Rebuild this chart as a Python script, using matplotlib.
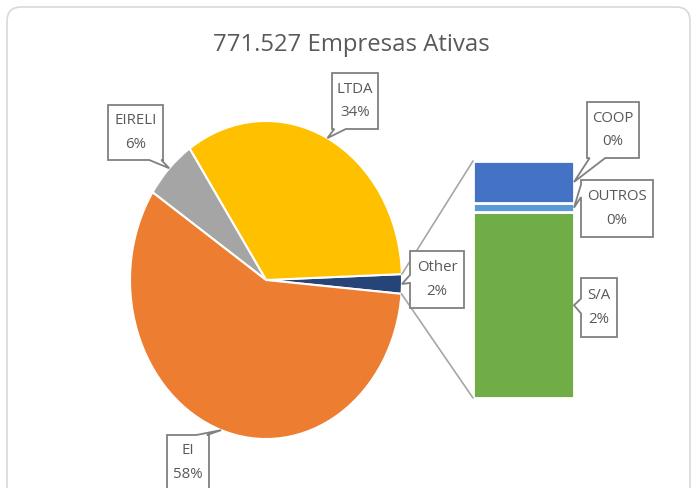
import numpy as np
import matplotlib.pyplot as plt
from matplotlib.patches import Polygon, FancyBboxPatch, ConnectionPatch

# pie slices (percent of 771.527 companies)
labels = ['Other', 'LTDA', 'EIRELI', 'EI']
values = [1.98, 33.9, 6.2, 57.9]
colors = ['#264478', '#FFC000', '#A5A5A5', '#ED7D31']

# breakdown of "Other", bottom to top
bar_labels = ['S/A', 'OUTROS', 'COOP']
bar_values = [1.55, 0.08, 0.35]
bar_colors = ['#70AD47', '#5B9BD5', '#4472C4']

title = '771.527 Empresas Ativas'

W, H = 693, 488
plt.rcParams['font.family'] = ['Open Sans', 'DejaVu Sans']
fig = plt.figure(figsize=(W / 100, H / 100), dpi=100)
GRAY = '#595959'


def inch(x, y):
    # image pixel (origin top-left) -> inches from bottom-left
    return x / 100, (H - y) / 100


# chart frame
fig.add_artist(FancyBboxPatch(inch(7, 520), 6.83, 5.13,
                              boxstyle='round,pad=0,rounding_size=0.14',
                              fc='none', ec='#D9D9D9', lw=1.2,
                              transform=fig.dpi_scale_trans))

fig.text(351 / W, 1 - 45 / H, title, ha='center', va='center',
         fontsize=17.2, color=GRAY)

# pie
ax = fig.add_axes([130 / W, (H - 439) / H, 272 / W, 318 / H])
start = -5
ax.pie(values, colors=colors, startangle=start, counterclock=True,
       wedgeprops=dict(edgecolor='white', linewidth=1.5))
ax.set_xlim(-1, 1)
ax.set_ylim(-1, 1)
ax.set_aspect('auto')
ax.axis('off')

# bar of the "Other" slice
bx = fig.add_axes([473 / W, (H - 398) / H, 101 / W, 237 / H])
bottom = 0
for v, c in zip(bar_values, bar_colors):
    bx.bar(0, v, width=1, bottom=bottom, color=c, edgecolor='white', linewidth=2)
    bottom += v
bx.set_xlim(-0.5, 0.5)
bx.set_ylim(0, sum(bar_values))
bx.axis('off')

# connector lines
total = sum(values)
t1 = np.radians(start)
t2 = np.radians(start + 360 * values[0] / total)
for t, yb in [(t2, sum(bar_values)), (t1, 0)]:
    fig.add_artist(ConnectionPatch(xyA=(np.cos(t), np.sin(t)), coordsA=ax.transData,
                                   xyB=(-0.5, yb), coordsB=bx.transData,
                                   color='#A6A6A6', lw=1.2))


def to_img(a, x, y):
    d = a.transData.transform((x, y))
    return d[0] * 100 / fig.dpi, H - d[1] * 100 / fig.dpi


def callout(box, side, f1, f2, tip, text):
    x0, y0, x1, y1 = box
    w, h = x1 - x0, y1 - y0
    pts = [(x0, y0)]
    if side == 'top':
        pts += [(x0 + f1 * w, y0), tip, (x0 + f2 * w, y0)]
    pts.append((x1, y0))
    if side == 'right':
        pts += [(x1, y0 + f1 * h), tip, (x1, y0 + f2 * h)]
    pts.append((x1, y1))
    if side == 'bottom':
        pts += [(x0 + f2 * w, y1), tip, (x0 + f1 * w, y1)]
    pts.append((x0, y1))
    if side == 'left':
        pts += [(x0, y0 + f2 * h), tip, (x0, y0 + f1 * h)]
    fig.add_artist(Polygon([inch(*p) for p in pts], closed=True, fc='white',
                           ec='#808080', lw=1.3, transform=fig.dpi_scale_trans))
    fig.text((x0 + x1) / 2 / W, 1 - (y0 + y1) / 2 / H, text, ha='center',
             va='center', fontsize=10.8, color=GRAY, linespacing=1.75)


# pie labels
boxes = {
    'Other': ((410, 251, 464, 308), 'left', 0.42, 0.56),
    'LTDA': ((332, 73, 378, 129), 'bottom', 0.05, 0.3),
    'EIRELI': ((108, 105, 163, 160), 'bottom', 0.75, 0.97),
    'EI': ((167, 435, 209, 490), 'top', 0.7, 0.95),
}
cum = start
for lab, v in zip(labels, values):
    mid = np.radians(cum + 180 * v / total)
    cum += 360 * v / total
    box, side, f1, f2 = boxes[lab]
    tip = to_img(ax, np.cos(mid), np.sin(mid))
    callout(box, side, f1, f2, tip, f'{lab}\n{round(v):.0f}%')

# bar labels
bar_boxes = {
    'S/A': ((581, 278, 617, 337), 'left', 0.35, 0.6),
    'OUTROS': ((581, 180, 653, 237), 'left', 0.08, 0.3),
    'COOP': ((587, 102, 639, 158), 'bottom', 0.05, 0.35),
}
bottom = 0
for lab, v in zip(bar_labels, bar_values):
    tip = to_img(bx, 0.5, bottom + v / 2)
    bottom += v
    box, side, f1, f2 = bar_boxes[lab]
    callout(box, side, f1, f2, tip, f'{lab}\n{round(v):.0f}%')

fig.savefig('out.png', dpi=100)
